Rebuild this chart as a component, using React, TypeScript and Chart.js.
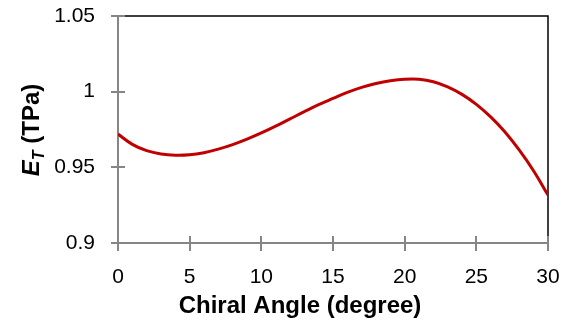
import React, { useEffect, useRef } from "react";
import { Chart, registerables } from "chart.js";

Chart.register(...registerables);

// Chiral angle (degree)
const angles = [0, 1, 2, 3, 4, 5, 6, 7, 8, 9, 10, 11, 12, 13, 14, 15, 16, 17, 18, 19, 20, 21, 22, 23, 24, 25, 26, 27, 28, 29, 30];
// E_T (TPa)
const modulus = [
  0.972, 0.9652, 0.961, 0.9588, 0.958, 0.9583, 0.9597, 0.962, 0.965, 0.9686,
  0.9727, 0.9772, 0.982, 0.9868, 0.9914, 0.9955, 0.9995, 1.0028, 1.0054, 1.0072,
  1.0082, 1.0082, 1.0066, 1.0032, 0.9982, 0.9916, 0.9833, 0.9733, 0.9613, 0.9476, 0.9317,
];
const xTicks = [0, 5, 10, 15, 20, 25, 30];
const yTicks = [0.9, 0.95, 1, 1.05];
const xTitle = "Chiral Angle (degree)";
const yTitleMain = "E";
const yTitleSub = "T";
const yTitleRest = " (TPa)";

const FONT = "'Liberation Sans', Arial, sans-serif";

const framePlugin = {
  id: "frame",
  beforeDatasetsDraw(chart: any) {
    const { ctx, chartArea } = chart;
    const { left, right, top, bottom } = chartArea;
    const xs = chart.scales.x;
    const ys = chart.scales.y;
    ctx.save();
    // top & right border
    ctx.strokeStyle = "#000";
    ctx.lineWidth = 1.5;
    ctx.beginPath();
    ctx.moveTo(left, top);
    ctx.lineTo(right, top);
    ctx.lineTo(right, bottom);
    ctx.stroke();
    // axes
    ctx.strokeStyle = "#868686";
    ctx.lineWidth = 2;
    ctx.beginPath();
    ctx.moveTo(left, top);
    ctx.lineTo(left, bottom);
    ctx.moveTo(left - 7, bottom);
    ctx.lineTo(right, bottom);
    ctx.stroke();
    // ticks crossing axes
    ctx.beginPath();
    for (const v of yTicks) {
      const y = Math.round(ys.getPixelForValue(v));
      ctx.moveTo(left - 7, y);
      ctx.lineTo(left + 7, y);
    }
    for (const v of xTicks) {
      const x = Math.round(xs.getPixelForValue(v));
      ctx.moveTo(x, bottom - 7);
      ctx.lineTo(x, bottom + 8);
    }
    ctx.stroke();
    ctx.restore();
  },
  afterDraw(chart: any) {
    const { ctx } = chart;
    ctx.save();
    ctx.fillStyle = "#000";
    // x title
    ctx.font = `bold 24px ${FONT}`;
    ctx.textAlign = "center";
    ctx.textBaseline = "alphabetic";
    ctx.fillText(xTitle, 300, 313);
    // y title (rotated)
    ctx.translate(39, 130);
    ctx.rotate(-Math.PI / 2);
    ctx.textAlign = "left";
    const mainFont = `italic bold 24px ${FONT}`;
    const subFont = `italic bold 16px ${FONT}`;
    const restFont = `bold 24px ${FONT}`;
    ctx.font = mainFont;
    const w1 = ctx.measureText(yTitleMain).width;
    ctx.font = subFont;
    const w2 = ctx.measureText(yTitleSub).width;
    ctx.font = restFont;
    const w3 = ctx.measureText(yTitleRest).width;
    let x = -(w1 + w2 + w3) / 2;
    ctx.font = mainFont;
    ctx.fillText(yTitleMain, x, 0);
    x += w1;
    ctx.font = subFont;
    ctx.fillText(yTitleSub, x, 5);
    x += w2;
    ctx.font = restFont;
    ctx.fillText(yTitleRest, x, 0);
    ctx.restore();
  },
};

export default function App() {
  const ref = useRef<HTMLCanvasElement>(null);
  useEffect(() => {
    if (!ref.current) return;
    const chart = new Chart(ref.current, {
      type: "line",
      data: {
        datasets: [
          {
            data: angles.map((a, i) => ({ x: a, y: modulus[i] })),
            borderColor: "#C00000",
            borderWidth: 3,
            pointRadius: 0,
            tension: 0.4,
            fill: false,
          },
        ],
      },
      options: {
        animation: false,
        responsive: false,
        maintainAspectRatio: false,
        layout: { padding: { left: 0, right: 18, top: 16, bottom: 0 } },
        plugins: { legend: { display: false }, tooltip: { enabled: false } },
        scales: {
          x: {
            type: "linear",
            min: 0,
            max: 30,
            afterBuildTicks: (s: any) => {
              s.ticks = xTicks.map((v) => ({ value: v }));
            },
            afterFit: (s: any) => {
              s.height = 78;
              s.paddingLeft = 0;
              s.paddingRight = 0;
              s.paddingTop = 0;
              s.paddingBottom = 0;
            },
            grid: { display: false, drawTicks: false },
            border: { display: false },
            ticks: {
              padding: 22,
              color: "#000",
              font: { family: FONT, size: 21 },
              maxRotation: 0,
              callback: (v: any) => String(v),
            },
          },
          y: {
            type: "linear",
            min: 0.9,
            max: 1.05,
            afterBuildTicks: (s: any) => {
              s.ticks = yTicks.map((v) => ({ value: v }));
            },
            afterFit: (s: any) => {
              s.width = 118;
              s.paddingLeft = 0;
              s.paddingRight = 0;
              s.paddingTop = 0;
              s.paddingBottom = 0;
            },
            grid: { display: false, drawTicks: false },
            border: { display: false },
            ticks: {
              padding: 23,
              color: "#000",
              font: { family: FONT, size: 21 },
              callback: (v: any) => String(Math.round(v * 100) / 100),
            },
          },
        },
      },
      plugins: [framePlugin],
    });
    return () => chart.destroy();
  }, []);
  return (
    <div style={{ position: "absolute", left: 0, top: 0, width: 566, height: 321, background: "#fff" }}>
      <canvas ref={ref} width={566} height={321} style={{ display: "block" }} />
    </div>
  );
}
